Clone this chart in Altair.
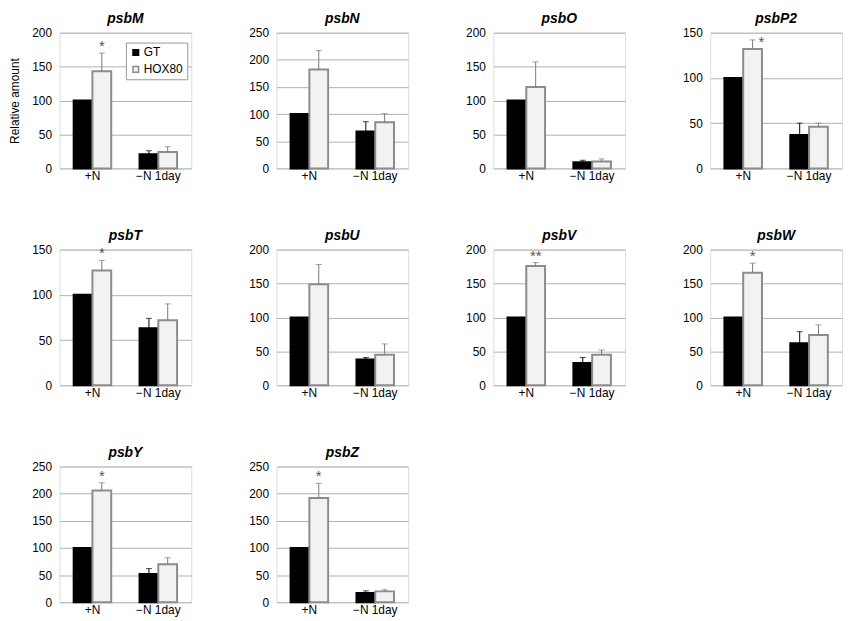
import altair as alt
import pandas as pd

GENES = ["psbM", "psbN", "psbO", "psbP2", "psbT", "psbU", "psbV", "psbW", "psbY", "psbZ"]
CONDITIONS = ["+N", "−N 1day"]
GENOTYPES = ["GT", "HOX80"]

GT_PLUS = [100, 100, 100, 100, 100, 100, 100, 100, 100, 100]
GT_PLUS_ERR = [0, 0, 0, 0, 0, 0, 0, 0, 0, 0]
HOX_PLUS = [143, 182, 120, 132, 127, 149, 176, 166, 206, 192]
HOX_PLUS_ERR = [27, 35, 37, 10, 11, 29, 5, 14, 14, 27]
GT_MINUS = [21, 68, 9, 37, 63, 38, 33, 62, 52, 17]
GT_MINUS_ERR = [5, 18, 3, 13, 11, 3, 8, 17, 10, 4]
HOX_MINUS = [24, 85, 10, 46, 72, 45, 45, 74, 70, 20]
HOX_MINUS_ERR = [8, 16, 4, 4, 18, 16, 7, 15, 12, 3]
SIG = ["*", "", "", "*", "*", "", "**", "*", "*", "*"]
Y_MAX = [200, 250, 200, 150, 150, 200, 200, 200, 250, 250]

FONT = "Liberation Sans"
STAR_OFFSETS = {"psbP2": (9, 7)}

rows = []
for i, g in enumerate(GENES):
    entries = [
        (CONDITIONS[0], GENOTYPES[0], GT_PLUS[i], GT_PLUS_ERR[i], ""),
        (CONDITIONS[0], GENOTYPES[1], HOX_PLUS[i], HOX_PLUS_ERR[i], SIG[i]),
        (CONDITIONS[1], GENOTYPES[0], GT_MINUS[i], GT_MINUS_ERR[i], ""),
        (CONDITIONS[1], GENOTYPES[1], HOX_MINUS[i], HOX_MINUS_ERR[i], ""),
    ]
    for c, geno, v, e, s in entries:
        rows.append(dict(gene=g, cond=c, geno=geno, value=v, err=e, top=v + e, sig=s))
df = pd.DataFrame(rows)

fill_scale = alt.Scale(domain=GENOTYPES, range=["#000000", "#f2f2f2"])
stroke_scale = alt.Scale(domain=GENOTYPES, range=["#000000", "#8c8c8c"])

leg = alt.Legend(
    title=None, orient="none", legendX=67, legendY=10, symbolType="square",
    symbolSize=32, symbolStrokeWidth=1.5, labelFontSize=12, labelFont=FONT,
    labelColor="black", strokeColor="#999999", fillColor="white", padding=4,
    rowPadding=5, labelOffset=2,
)


def panel(i, g):
    d = df[df.gene == g]
    ymax = Y_MAX[i]
    yscale = alt.Scale(domain=[0, ymax], nice=False)
    axis_kw = dict(
        values=list(range(0, ymax + 1, 50)), grid=True, ticks=False, domain=False,
        labelPadding=8, labelFontSize=12, labelFont=FONT, labelColor="black",
        gridColor="#b0b0b0", gridWidth=1, labelOverlap=False,
    )
    if i == 0:
        axis_kw.update(title="Relative amount", titleFontSize=12, titleFontWeight="normal",
                       titleFont=FONT, titleColor="black", titlePadding=10)
    else:
        axis_kw.update(title="")
    yaxis = alt.Axis(**axis_kw)
    x = alt.X("cond:N", sort=CONDITIONS, title=None,
              scale=alt.Scale(paddingInner=0.43, paddingOuter=0.215),
              axis=alt.Axis(labelAngle=0, ticks=False, domain=False, grid=False,
                            labelPadding=2, labelFontSize=12, labelFont=FONT,
                            labelColor="black"))
    xo = alt.XOffset("geno:N", sort=GENOTYPES, scale=alt.Scale(paddingInner=0, paddingOuter=0))

    bars = alt.Chart(d).mark_bar(strokeWidth=2).encode(
        x=x, xOffset=xo,
        y=alt.Y("value:Q", scale=yscale, axis=yaxis),
        fill=alt.Fill("geno:N", scale=fill_scale, legend=leg),
        stroke=alt.Stroke("geno:N", scale=stroke_scale, legend=leg),
    )
    eb = alt.Chart(d[d.err > 0]).transform_calculate(
        ecol="datum.geno == 'GT' ? '#000000' : '#7a7a7a'"
    )
    rules = eb.mark_rule(strokeWidth=1).encode(
        x=x, xOffset=xo, y=alt.Y("value:Q", scale=yscale, axis=yaxis), y2="top:Q",
        stroke=alt.Stroke("ecol:N", scale=None),
    )
    caps = eb.mark_tick(thickness=1, size=6).encode(
        x=x, xOffset=xo, y=alt.Y("top:Q", scale=yscale, axis=yaxis),
        color=alt.Color("ecol:N", scale=None),
    )
    layers = [bars, rules, caps]
    sd = d[d.sig != ""]
    if len(sd):
        dx, dy = STAR_OFFSETS.get(g, (0, -2))
        stars = alt.Chart(sd).mark_text(
            font=FONT, fontSize=15, color="#555555", baseline="alphabetic", dx=dx, dy=dy
        ).encode(x=x, xOffset=xo, y=alt.Y("top:Q", scale=yscale, axis=yaxis), text="sig:N")
        layers.append(stars)
    return alt.layer(*layers).properties(
        width=133, height=137,
        title=alt.TitleParams(g, fontStyle="italic", fontWeight="bold", fontSize=14,
                              font=FONT, color="black", offset=1, frame="group"),
    ).resolve_scale(y="shared")


panels = [panel(i, g) for i, g in enumerate(GENES)]
chart = alt.concat(
    *panels, columns=4, spacing=alt.RowColnumber(row=82, column=86), bounds="flush"
).resolve_scale(y="independent", x="independent", xOffset="independent").properties(
    padding=0
).configure_view(stroke="#a0a0a0", strokeWidth=1).configure(background="white")

chart.save("out.html", embed_options={"renderer": "svg", "actions": False})
